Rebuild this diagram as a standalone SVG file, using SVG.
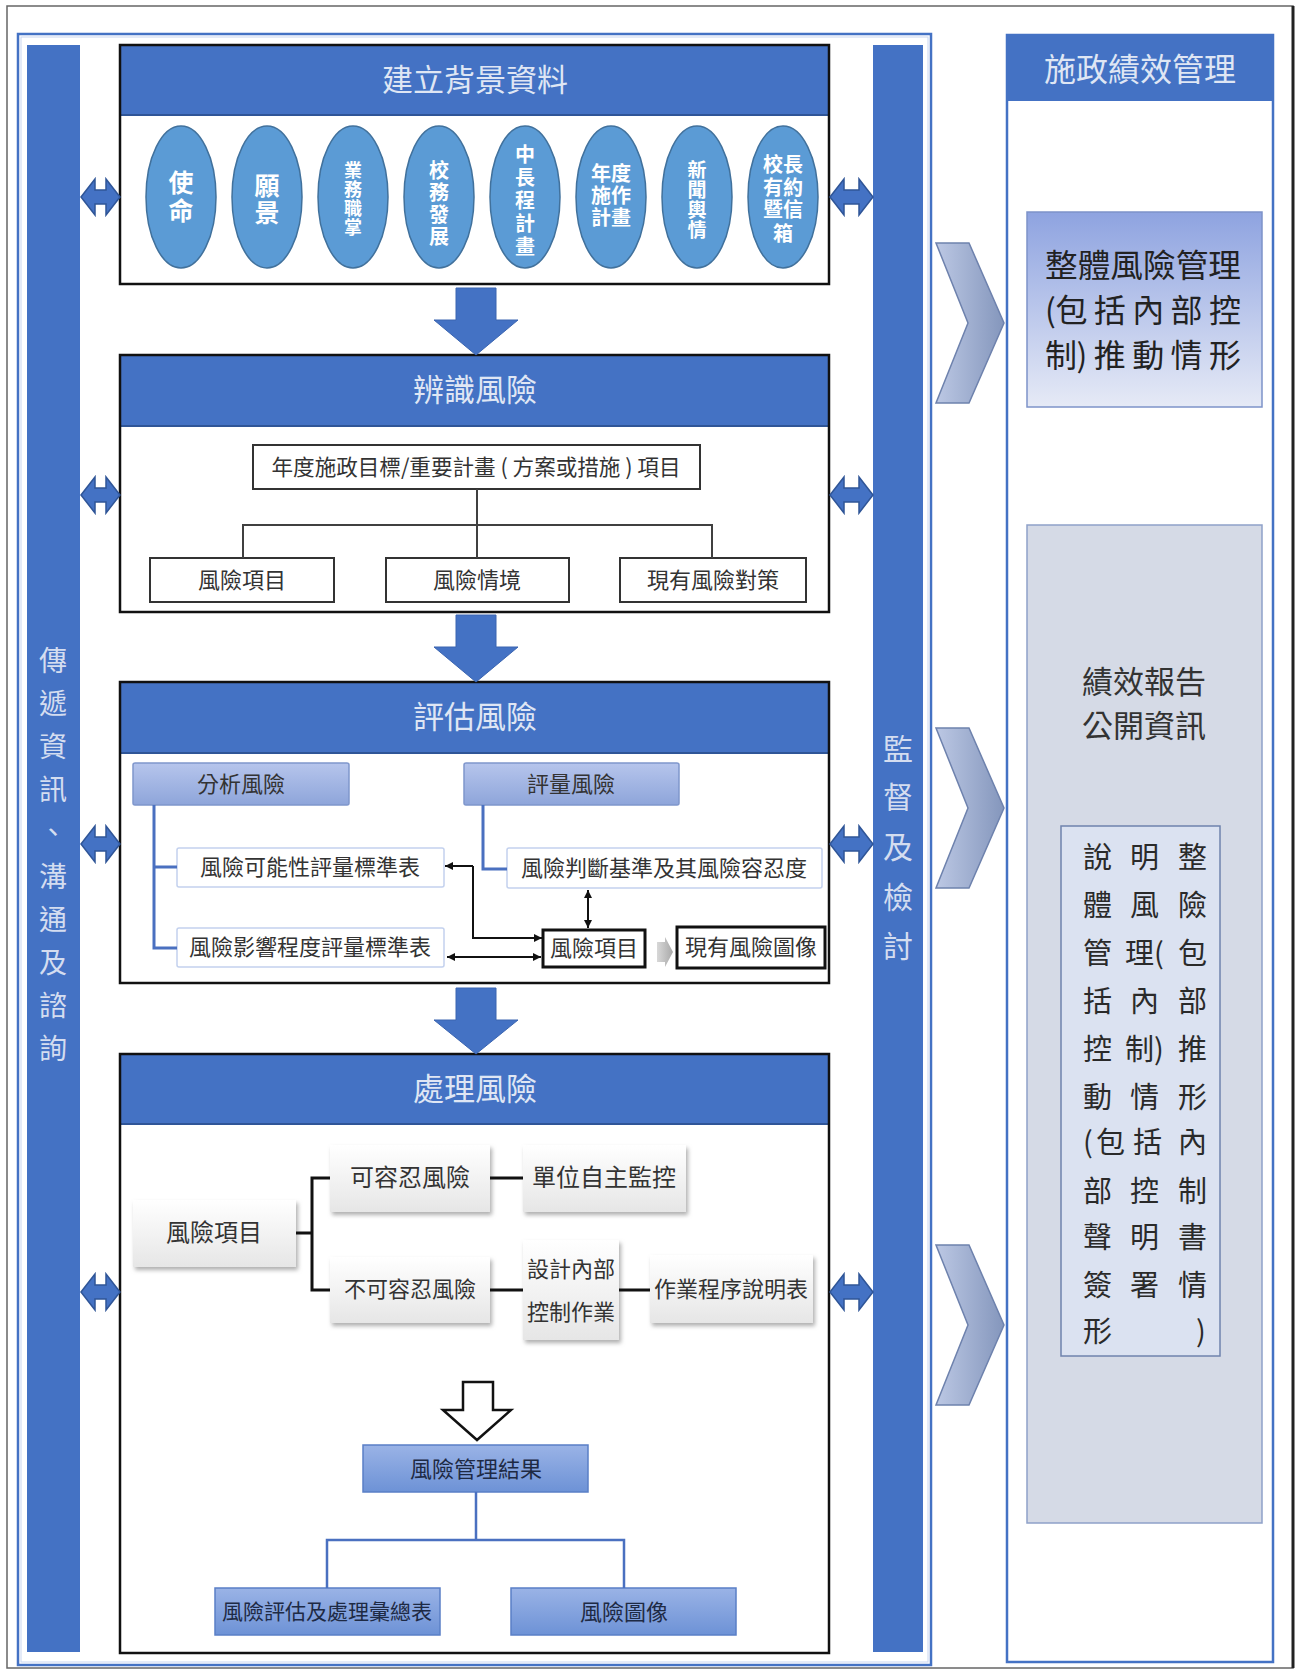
<svg xmlns="http://www.w3.org/2000/svg" width="1299" height="1675" viewBox="0 0 1299 1675">
<defs>
<style>
text{font-family:"Noto Sans CJK TC","Noto Sans CJK SC",sans-serif;}
.hdr{fill:#4472c4;}
.ttl{fill:#dfe6f4;font-size:31px;text-anchor:middle;}
.box{fill:none;stroke:#111;stroke-width:2.5;}
.ell{fill:#5b9bd5;stroke:#41719c;stroke-width:1.5;}
.et{fill:#fff;font-weight:bold;text-anchor:middle;}
.dbl{fill:#4472c4;stroke:#2f5597;stroke-width:1.5;}
.down{fill:#4472c4;stroke:#3a64b0;stroke-width:1;}
.bar{fill:#4472c4;}
.bt{fill:#d4ddf0;font-size:28px;text-anchor:middle;}
.wb{fill:#fff;stroke:#333;stroke-width:2;}
.t22{fill:#333;font-size:22px;text-anchor:middle;}
.t24{fill:#333;font-size:24px;text-anchor:middle;}
.lb{fill:url(#gPurple);stroke:#7f96cc;stroke-width:1.5;}
.lw{fill:#fff;stroke:#c3d1ee;stroke-width:1.5;}
.bk{fill:#fff;stroke:#111;stroke-width:3;}
.sh{fill:url(#gWhite);filter:url(#shadow);}
.bl{fill:url(#gBlue);stroke:#5a7fc6;stroke-width:1.5;}
.chev{fill:url(#gChev);stroke:#6e82ad;stroke-width:1.5;}
.cn{fill:none;stroke:#404040;stroke-width:2;}
.cb{fill:none;stroke:#4a70c0;stroke-width:3;}
.ck{fill:none;stroke:#111;stroke-width:2;}
.ck3{fill:none;stroke:#111;stroke-width:3;}
.rt{fill:#2a2a2a;font-size:29px;}
</style>
<linearGradient id="gPurple" x1="0" y1="0" x2="0" y2="1"><stop offset="0" stop-color="#b6c5ec"/><stop offset="1" stop-color="#8ea5da"/></linearGradient>
<linearGradient id="gWhite" x1="0" y1="0" x2="0" y2="1"><stop offset="0" stop-color="#ffffff"/><stop offset="1" stop-color="#e6e6e6"/></linearGradient>
<linearGradient id="gBlue" x1="0" y1="0" x2="0" y2="1"><stop offset="0" stop-color="#9ab3e6"/><stop offset="1" stop-color="#6d92d6"/></linearGradient>
<linearGradient id="gChev" x1="0" y1="0" x2="1" y2="0"><stop offset="0" stop-color="#bcc8e4"/><stop offset="1" stop-color="#8496bc"/></linearGradient>
<linearGradient id="gRight" x1="0" y1="0" x2="0" y2="1"><stop offset="0" stop-color="#8ea3e0"/><stop offset="1" stop-color="#e6eaf6"/></linearGradient>
<linearGradient id="gGrayArr" x1="0" y1="0" x2="1" y2="0"><stop offset="0" stop-color="#d8d8d8"/><stop offset="1" stop-color="#a8a8a8"/></linearGradient>
<filter id="shadow" x="-10%" y="-10%" width="130%" height="130%"><feDropShadow dx="2" dy="3" stdDeviation="2" flood-color="#9a9a9a" flood-opacity="0.8"/></filter>
<marker id="ah" viewBox="0 0 10 10" refX="10" refY="5" markerWidth="4" markerHeight="4" orient="auto-start-reverse"><path d="M0,0 L10,5 L0,10 Z" fill="#111"/></marker>
</defs>

<!-- outer frame -->
<rect x="7" y="6" width="1286" height="1662" fill="#fff" stroke="#666" stroke-width="1.5"/>
<line x1="1293" y1="6" x2="1293" y2="1668" stroke="#222" stroke-width="3"/>
<rect x="18" y="34" width="913" height="1631" fill="none" stroke="#4472c4" stroke-width="2.5"/>
<rect x="21" y="37" width="907" height="1625" fill="none" stroke="#c9d6f0" stroke-width="1"/>

<!-- left bar -->
<g id="left-bar">
<rect class="bar" x="27" y="45" width="53" height="1607"/>
<text class="bt" x="53" y="671">傳</text>
<text class="bt" x="53" y="714">遞</text>
<text class="bt" x="53" y="757">資</text>
<text class="bt" x="53" y="800">訊</text>
<text class="bt" x="53" y="843">、</text>
<text class="bt" x="53" y="887">溝</text>
<text class="bt" x="53" y="930">通</text>
<text class="bt" x="53" y="973">及</text>
<text class="bt" x="53" y="1016">諮</text>
<text class="bt" x="53" y="1059">詢</text>
</g>

<!-- right bar -->
<g id="right-bar">
<rect class="bar" x="873" y="45" width="50" height="1607"/>
<text class="bt" style="font-size:30px" x="898" y="760">監</text>
<text class="bt" style="font-size:30px" x="898" y="808">督</text>
<text class="bt" style="font-size:30px" x="898" y="858">及</text>
<text class="bt" style="font-size:30px" x="898" y="908">檢</text>
<text class="bt" style="font-size:30px" x="898" y="957">討</text>
</g>

<!-- box 1 -->
<g id="box-background">
<rect x="120" y="45" width="709" height="239" fill="#fff"/>
<rect class="hdr" x="120" y="45" width="709" height="70"/>
<line x1="120" y1="115" x2="829" y2="115" stroke="#2f5597" stroke-width="2"/>
<rect class="box" x="120" y="45" width="709" height="239"/>
<text class="ttl" x="475" y="91">建立背景資料</text>
<ellipse class="ell" cx="181" cy="197" rx="35" ry="71"/>
<ellipse class="ell" cx="267" cy="197" rx="35" ry="71"/>
<ellipse class="ell" cx="353" cy="197" rx="35" ry="71"/>
<ellipse class="ell" cx="439" cy="197" rx="35" ry="71"/>
<ellipse class="ell" cx="525" cy="197" rx="35" ry="71"/>
<ellipse class="ell" cx="611" cy="197" rx="35" ry="71"/>
<ellipse class="ell" cx="697" cy="197" rx="35" ry="71"/>
<ellipse class="ell" cx="783" cy="197" rx="35" ry="71"/>
<text class="et" style="font-size:25px" x="181 181" y="192 220">使命</text>
<text class="et" style="font-size:25px" x="267 267" y="195 222">願景</text>
<text class="et" style="font-size:18px" x="353 353 353 353" y="177 196 215 234">業務職掌</text>
<text class="et" style="font-size:20px" x="439 439 439 439" y="178 200 222 244">校務發展</text>
<text class="et" style="font-size:20px" x="525 525 525 525 525" y="162 185 208 231 254">中長程計畫</text>
<text class="et" style="font-size:20px" x="601 621 601 621 601 621" y="181 181 203 203 225 225">年度施作計畫</text>
<text class="et" style="font-size:19px" x="697 697 697 697" y="177 197 217 237">新聞輿情</text>
<text class="et" style="font-size:20px" x="773 793 773 793 773 793 783" y="172 172 195 195 217 217 241">校長有約暨信箱</text>
</g>

<!-- box 2 -->
<g id="box-identify">
<rect x="120" y="355" width="709" height="257" fill="#fff"/>
<rect class="hdr" x="120" y="355" width="709" height="71"/>
<line x1="120" y1="426" x2="829" y2="426" stroke="#2f5597" stroke-width="2"/>
<rect class="box" x="120" y="355" width="709" height="257"/>
<text class="ttl" x="475" y="401">辨識風險</text>
<rect class="wb" x="253" y="445" width="447" height="44"/>
<text class="t22" x="476" y="475" textLength="409" lengthAdjust="spacingAndGlyphs">年度施政目標/重要計畫 ( 方案或措施 ) 項目</text>
<rect class="wb" x="150" y="558" width="184" height="44"/>
<rect class="wb" x="386" y="558" width="183" height="44"/>
<rect class="wb" x="620" y="558" width="186" height="44"/>
<text class="t22" x="242" y="588">風險項目</text>
<text class="t22" x="477" y="588">風險情境</text>
<text class="t22" x="713" y="588">現有風險對策</text>
</g>

<!-- box 3 -->
<g id="box-assess">
<rect x="120" y="682" width="709" height="301" fill="#fff"/>
<rect class="hdr" x="120" y="682" width="709" height="71"/>
<line x1="120" y1="753" x2="829" y2="753" stroke="#2f5597" stroke-width="2"/>
<rect class="box" x="120" y="682" width="709" height="301"/>
<text class="ttl" x="475" y="728">評估風險</text>
<rect class="lb" x="133" y="763" width="216" height="42" rx="2"/>
<text class="t22" x="241" y="792">分析風險</text>
<rect class="lb" x="464" y="763" width="215" height="42" rx="2"/>
<text class="t22" x="571" y="792">評量風險</text>
<rect class="lw" x="177" y="848" width="267" height="39" rx="2"/>
<text class="t22" x="310" y="875">風險可能性評量標準表</text>
<rect class="lw" x="177" y="928" width="267" height="39" rx="2"/>
<text class="t22" x="310" y="955">風險影響程度評量標準表</text>
<rect class="lw" x="507" y="848" width="315" height="40" rx="2"/>
<text class="t22" x="664" y="876">風險判斷基準及其風險容忍度</text>
<rect class="bk" x="543" y="930" width="102" height="37"/>
<text class="t22" x="594" y="956">風險項目</text>
<rect class="bk" x="677" y="927" width="148" height="41"/>
<text class="t22" x="751" y="955">現有風險圖像</text>
<path d="M657,942 L665,942 L665,937 L673,952 L665,967 L665,962 L657,962 Z" fill="url(#gGrayArr)"/>
</g>

<!-- box 4 -->
<g id="box-treat">
<rect x="120" y="1054" width="709" height="599" fill="#fff"/>
<rect class="hdr" x="120" y="1054" width="709" height="70"/>
<line x1="120" y1="1124" x2="829" y2="1124" stroke="#2f5597" stroke-width="2"/>
<rect class="box" x="120" y="1054" width="709" height="599"/>
<text class="ttl" x="475" y="1100">處理風險</text>
<rect class="sh" x="133" y="1200" width="163" height="67"/>
<text class="t24" x="214" y="1241">風險項目</text>
<rect class="sh" x="330" y="1145" width="160" height="67"/>
<text class="t24" x="410" y="1186">可容忍風險</text>
<rect class="sh" x="523" y="1145" width="163" height="67"/>
<text class="t24" x="604" y="1186">單位自主監控</text>
<rect class="sh" x="330" y="1257" width="160" height="66"/>
<text class="t22" x="410" y="1297">不可容忍風險</text>
<rect class="sh" x="523" y="1240" width="96" height="100"/>
<text class="t22" x="571" y="1277">設計內部</text>
<text class="t22" x="571" y="1320">控制作業</text>
<rect class="sh" x="650" y="1255" width="163" height="68"/>
<text class="t22" x="731" y="1297">作業程序說明表</text>
<path d="M463,1382 L493,1382 L493,1410 L511,1410 L477,1440 L443,1410 L463,1410 Z" fill="#fff" stroke="#111" stroke-width="2.5"/>
<rect class="bl" x="363" y="1445" width="225" height="47"/>
<text class="t22" x="476" y="1477" style="fill:#1e2a44">風險管理結果</text>
<rect class="bl" x="215" y="1588" width="225" height="47"/>
<text class="t22" x="327" y="1619" style="fill:#1e2a44;font-size:21px">風險評估及處理彙總表</text>
<rect class="bl" x="511" y="1588" width="225" height="47"/>
<text class="t22" x="624" y="1620" style="fill:#1e2a44">風險圖像</text>
</g>

<!-- right panel -->
<g id="panel-performance">
<rect x="1007" y="35" width="266" height="1627" fill="#fff" stroke="#4472c4" stroke-width="2.5"/>
<rect class="hdr" x="1007" y="35" width="266" height="66"/>
<text x="1140" y="81" style="fill:#dfe6f4;font-size:32px;text-anchor:middle">施政績效管理</text>
</g>
<g id="node-overall">
<rect x="1027" y="212" width="235" height="195" fill="url(#gRight)" stroke="#7d93c9" stroke-width="1.5"/>
<text x="1045" y="277" style="fill:#222;font-size:32px" textLength="196" lengthAdjust="spacingAndGlyphs">整體風險管理</text>
<text x="1045" y="322" style="fill:#222;font-size:32px" textLength="196" lengthAdjust="spacing">(包 括 內 部 控</text>
<text x="1045" y="367" style="fill:#222;font-size:32px" textLength="196" lengthAdjust="spacing">制) 推 動 情 形</text>
</g>
<g id="node-report">
<rect x="1027" y="525" width="235" height="998" fill="#d5dae6" stroke="#8ea1c9" stroke-width="1.5"/>
<text x="1144" y="693" style="fill:#333;font-size:31px;text-anchor:middle">績效報告</text>
<text x="1144" y="737" style="fill:#333;font-size:31px;text-anchor:middle">公開資訊</text>
<rect x="1061" y="826" width="159" height="530" fill="#dbe2f1" stroke="#6f83ad" stroke-width="1.5"/>
<text class="rt" x="1083 1130 1178" y="868">說明整</text>
<text class="rt" x="1083 1130 1178" y="916">體風險</text>
<text class="rt" x="1083 1125 1154 1178" y="964">管理(包</text>
<text class="rt" x="1083 1130 1178" y="1012">括內部</text>
<text class="rt" x="1083 1125 1154 1178" y="1060">控制)推</text>
<text class="rt" x="1083 1130 1178" y="1108">動情形</text>
<text class="rt" x="1083 1096 1133 1178" y="1153">(包括內</text>
<text class="rt" x="1083 1130 1178" y="1202">部控制</text>
<text class="rt" x="1083 1130 1178" y="1248">聲明書</text>
<text class="rt" x="1083 1130 1178" y="1296">簽署情</text>
<text class="rt" x="1083 1196" y="1342">形)</text>
</g>

<!-- connectors -->
<g id="connectors">
<path class="dbl" d="M81,197 L95,179 L95,190 L106,190 L106,179 L120,197 L106,215 L106,204 L95,204 L95,215 Z"/>
<path class="dbl" d="M81,495 L95,477 L95,488 L106,488 L106,477 L120,495 L106,513 L106,502 L95,502 L95,513 Z"/>
<path class="dbl" d="M81,844 L95,826 L95,837 L106,837 L106,826 L120,844 L106,862 L106,851 L95,851 L95,862 Z"/>
<path class="dbl" d="M81,1292 L95,1274 L95,1285 L106,1285 L106,1274 L120,1292 L106,1310 L106,1299 L95,1299 L95,1310 Z"/>
<path class="dbl" d="M830,197 L844,179 L844,190 L859,190 L859,179 L873,197 L859,215 L859,204 L844,204 L844,215 Z"/>
<path class="dbl" d="M830,495 L844,477 L844,488 L859,488 L859,477 L873,495 L859,513 L859,502 L844,502 L844,513 Z"/>
<path class="dbl" d="M830,844 L844,826 L844,837 L859,837 L859,826 L873,844 L859,862 L859,851 L844,851 L844,862 Z"/>
<path class="dbl" d="M830,1292 L844,1274 L844,1285 L859,1285 L859,1274 L873,1292 L859,1310 L859,1299 L844,1299 L844,1310 Z"/>
<path class="down" d="M456,288 L496,288 L496,320 L518,320 L476,355 L434,320 L456,320 Z"/>
<path class="down" d="M456,615 L496,615 L496,647 L518,647 L476,682 L434,647 L456,647 Z"/>
<path class="down" d="M456,988 L496,988 L496,1020 L518,1020 L476,1054 L434,1020 L456,1020 Z"/>
<path class="chev" d="M936,243 L969,243 L1004,323 L969,403 L936,403 L968,323 Z"/>
<path class="chev" d="M936,728 L969,728 L1004,808 L969,888 L936,888 L968,808 Z"/>
<path class="chev" d="M936,1245 L969,1245 L1004,1325 L969,1405 L936,1405 L968,1325 Z"/>
<path class="cn" d="M477,489 L477,558 M243,558 L243,525 L712,525 L712,558"/>
<path class="cb" d="M154,805 L154,948 L177,948 M154,867 L177,867"/>
<path class="cb" d="M483,805 L483,869 L507,869"/>
<path class="ck" d="M473,866 L445,866" marker-end="url(#ah)"/>
<path class="ck" d="M473,866 L473,938 L542,938" marker-end="url(#ah)"/>
<path class="ck" d="M447,957 L541,957" marker-start="url(#ah)" marker-end="url(#ah)"/>
<path class="ck" d="M588,890 L588,928" marker-start="url(#ah)" marker-end="url(#ah)"/>
<path class="ck3" d="M296,1233 L312,1233 M330,1178 L312,1178 L312,1290 L330,1290"/>
<path class="ck3" d="M490,1178 L523,1178 M490,1290 L523,1290 M619,1290 L650,1290"/>
<path class="cb" style="stroke-width:2.5" d="M476,1492 L476,1540 M327,1588 L327,1540 L624,1540 L624,1588"/>
</g>
</svg>
